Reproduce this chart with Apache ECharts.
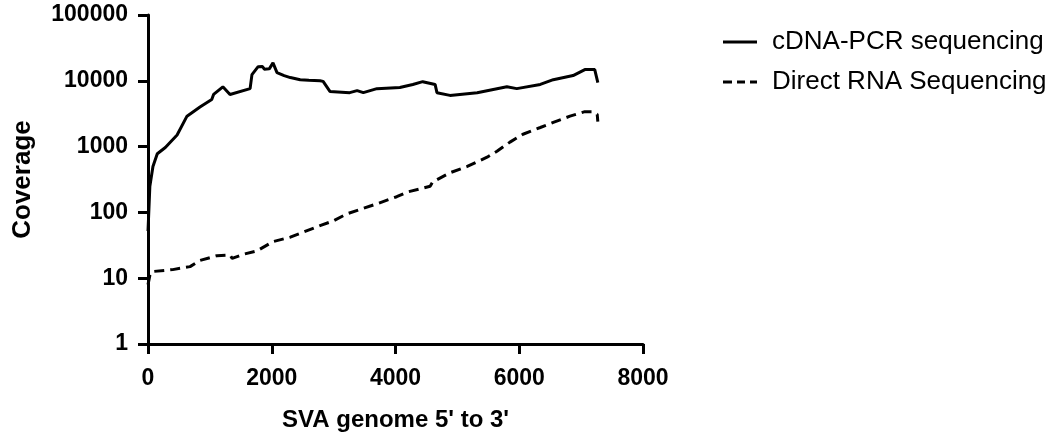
<!DOCTYPE html>
<html>
<head>
<meta charset="utf-8">
<script src="https://cdn.jsdelivr.net/npm/echarts@6/dist/echarts.min.js"></script>
<style>
  html, body { margin: 0; padding: 0; background: #fff; }
  #chart-container { width: 1059px; height: 437px; }
</style>
</head>
<body>
<div id="chart-container"></div>
<script>
var seriesNames = ["cDNA-PCR sequencing", "Direct RNA Sequencing"];

// cDNA-PCR sequencing coverage (position, coverage)
var cdnaPos = [0, 30, 80, 150, 280, 470, 630, 840, 1030, 1060, 1210, 1325, 1650, 1660, 1680, 1780, 1850, 1880, 1960, 2020, 2085, 2200, 2300, 2460, 2600, 2780, 2830, 2940, 3260, 3380, 3480, 3700, 4070, 4280, 4440, 4640, 4670, 4880, 5320, 5800, 5960, 6340, 6550, 6870, 7060, 7220, 7270];
var cdnaCov = [52, 250, 500, 780, 970, 1500, 2900, 4000, 5200, 6200, 8100, 6200, 7600, 7700, 12400, 16400, 16500, 15000, 15200, 18700, 13300, 12000, 11200, 10400, 10200, 10000, 9800, 6900, 6600, 7100, 6600, 7600, 7900, 8800, 9700, 8800, 6600, 6000, 6600, 8100, 7600, 8800, 10400, 12000, 14800, 14800, 9400];

// Direct RNA sequencing coverage
var rnaPos = [0, 30, 65, 400, 680, 840, 1115, 1325, 1360, 1535, 1760, 2020, 2300, 2780, 2990, 3215, 3700, 4020, 4185, 4560, 4600, 4880, 5160, 5480, 5640, 5850, 6060, 6340, 6550, 6820, 7060, 7170, 7260, 7270];
var rnaCov = [8, 11, 12.6, 13.5, 15, 18.6, 22, 22.5, 20, 23, 26, 36, 42, 63, 74, 95, 135, 173, 203, 250, 290, 400, 500, 690, 850, 1170, 1540, 1950, 2330, 2900, 3400, 3400, 3100, 2400];

function pairs(xs, ys) {
  return xs.map(function (x, i) { return [x, ys[i]]; });
}

var dom = document.getElementById("chart-container");
var myChart = echarts.init(dom);
var fontFam = "Liberation Sans, Arial, sans-serif";
var tickStyle = { show: true, inside: false, length: 10, lineStyle: { color: "#000", width: 3 } };
var option = {
  animation: false,
  grid: { left: 148, right: 416, top: 15, bottom: 91 },
  legend: {
    orient: "vertical",
    left: 718,
    top: 24,
    itemWidth: 34,
    itemHeight: 3,
    itemGap: 14,
    data: [
      { name: seriesNames[0], icon: "path://M0,0H34V3H0Z" },
      { name: seriesNames[1], icon: "path://M0,0H9V3H0Z M14,0H22V3H14Z M27,0H34V3H27Z" }
    ],
    itemStyle: { color: "#000" },
    textStyle: {
      fontFamily: fontFam,
      fontSize: 26,
      color: "#000",
      padding: [0, 0, 0, 10]
    }
  },
  xAxis: {
    type: "value",
    min: 0,
    max: 8000,
    interval: 2000,
    name: "SVA genome 5' to 3'",
    nameLocation: "middle",
    nameGap: 64,
    nameTextStyle: { fontFamily: fontFam, fontSize: 24, fontWeight: "bold", color: "#000" },
    splitLine: { show: false },
    axisLine: { show: true, onZero: false, lineStyle: { color: "#000", width: 3 } },
    axisTick: tickStyle,
    axisLabel: {
      margin: 23,
      fontFamily: fontFam,
      fontSize: 23,
      fontWeight: "bold",
      color: "#000",
      formatter: function (v) { return String(v); }
    }
  },
  yAxis: {
    type: "log",
    logBase: 10,
    min: 1,
    max: 100000,
    name: "Coverage",
    nameLocation: "middle",
    nameGap: 112,
    nameTextStyle: { fontFamily: fontFam, fontSize: 26, fontWeight: "bold", color: "#000" },
    splitLine: { show: false },
    minorTick: { show: false },
    axisLine: { show: true, lineStyle: { color: "#000", width: 3 } },
    axisTick: tickStyle,
    axisLabel: {
      margin: 20,
      fontFamily: fontFam,
      fontSize: 23,
      fontWeight: "bold",
      color: "#000",
      formatter: function (v) { return String(Math.round(v)); }
    }
  },
  series: [
    {
      name: seriesNames[0],
      type: "line",
      symbol: "none",
      showSymbol: false,
      color: "#000",
      lineStyle: { color: "#000", width: 3, type: "solid" },
      data: pairs(cdnaPos, cdnaCov)
    },
    {
      name: seriesNames[1],
      type: "line",
      symbol: "none",
      showSymbol: false,
      color: "#000",
      lineStyle: { color: "#000", width: 3, type: [10, 6] },
      data: pairs(rnaPos, rnaCov)
    }
  ]
};
if (option && typeof option === "object") {
  myChart.setOption(option, true);
}
</script>
</body>
</html>
